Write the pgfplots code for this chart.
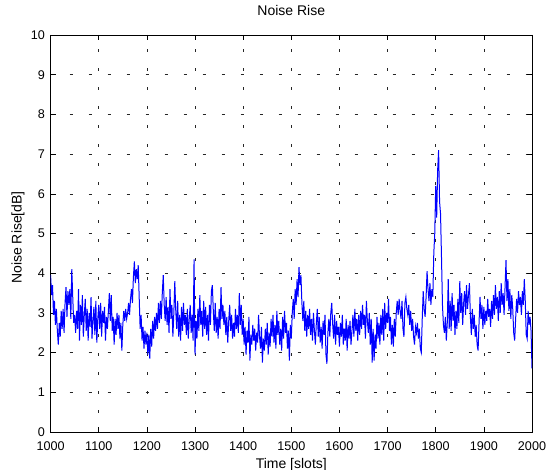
\documentclass[border=0pt]{standalone}
\usepackage{fontspec}
\setmainfont{Liberation Sans}
\usepackage{pgfplots}
\pgfplotsset{compat=1.18}

\begin{document}
\begin{tikzpicture}
\useasboundingbox (0,0) rectangle (547bp,470bp);
\begin{axis}[
    at={(50.6bp,38bp)}, anchor=south west,
    scale only axis, width=481.4bp, height=397bp,
    xmin=1000, xmax=2000, ymin=0, ymax=10,
    xtick={1000,1100,...,2000}, ytick={0,1,...,10},
    grid=major,
    major grid style={black!85, line width=0.5bp, dash pattern=on 3bp off 16bp},
    tick align=inside, major tick length=5bp,
    tick style={black, line width=0.5bp},
    axis line style={black, line width=0.6bp},
    /pgf/number format/assume math mode=true,
    /pgf/number format/set thousands separator={},
    tick label style={font=\fontsize{12.6bp}{14bp}\selectfont, inner sep=0pt},
    xticklabel style={anchor=base, yshift=-18.7bp},
    yticklabel style={anchor=east, xshift=-5.6bp},
    title={Noise Rise},
    title style={font=\fontsize{14bp}{16bp}\selectfont, at={(axis description cs:0.5,1)}, anchor=base, yshift=14bp, inner sep=0pt},
    xlabel={Time [slots]},
    xlabel style={font=\fontsize{14bp}{16bp}\selectfont, at={(axis description cs:0.5,0)}, anchor=base, yshift=-36.5bp, inner sep=0pt},
    ylabel={Noise Rise[dB]},
    ylabel style={font=\fontsize{14bp}{16bp}\selectfont, at={(axis description cs:-0.06,0.49)}, anchor=base, inner sep=0pt},
]
\addplot[blue, line width=1bp, mark=none] coordinates {
(1000,3.95)(1002,3.45)(1004,3.70)(1006,2.95)(1008,3.30)(1010,2.70)(1012,3.10)(1014,2.55)(1016,2.20)(1018,2.75)
(1020,2.40)(1022,3.05)(1024,2.60)(1026,3.10)(1028,2.50)(1030,3.25)(1032,3.65)(1034,2.90)(1036,3.55)(1038,3.20)
(1040,3.60)(1042,2.85)(1044,4.10)(1046,3.40)(1048,2.75)(1050,2.95)(1052,2.50)(1054,3.05)(1056,2.60)(1058,3.60)
(1060,2.30)(1062,3.20)(1064,2.70)(1066,3.45)(1068,2.40)(1070,2.95)(1072,3.35)(1074,2.55)(1076,3.10)(1078,2.30)
(1080,3.00)(1082,2.65)(1084,3.40)(1086,2.35)(1088,2.80)(1090,3.15)(1092,2.45)(1094,3.30)(1096,2.25)(1098,2.85)
(1100,3.20)(1102,2.60)(1104,3.25)(1106,2.40)(1108,3.05)(1110,2.75)(1112,3.15)(1114,2.30)(1116,2.90)(1118,2.60)
(1120,3.05)(1122,3.50)(1124,2.80)(1126,3.45)(1128,2.55)(1130,2.90)(1132,2.20)(1134,2.85)(1136,2.45)(1138,3.00)
(1140,2.60)(1142,2.95)(1144,2.35)(1146,2.75)(1148,2.05)(1150,2.70)(1152,3.05)(1154,2.80)(1156,3.10)(1158,2.85)
(1160,3.00)(1162,3.25)(1164,2.95)(1166,3.35)(1168,3.60)(1170,3.25)(1172,3.90)(1174,4.30)(1176,3.75)(1178,4.10)
(1180,3.85)(1182,4.20)(1184,3.40)(1186,2.60)(1188,2.95)(1190,2.30)(1192,2.65)(1194,2.10)(1196,2.55)(1198,2.20)
(1200,2.50)(1202,1.95)(1204,2.45)(1206,1.85)(1208,2.60)(1210,2.15)(1212,2.80)(1214,2.35)(1216,2.90)(1218,2.55)
(1220,3.00)(1222,2.60)(1224,3.25)(1226,2.75)(1228,3.30)(1230,2.85)(1232,3.50)(1234,3.95)(1236,3.20)(1238,2.80)
(1240,3.40)(1242,2.70)(1244,3.15)(1246,2.50)(1248,3.60)(1250,2.85)(1252,3.20)(1254,2.40)(1256,3.00)(1258,3.80)
(1260,3.05)(1262,2.60)(1264,3.30)(1266,2.40)(1268,2.95)(1270,2.30)(1272,3.15)(1274,2.55)(1276,3.25)(1278,2.70)
(1280,2.95)(1282,2.45)(1284,3.10)(1286,2.35)(1288,2.85)(1290,3.20)(1292,2.50)(1294,2.95)(1296,2.30)(1298,4.35)
(1300,1.95)(1302,2.80)(1304,2.35)(1306,3.10)(1308,2.55)(1310,3.45)(1312,2.70)(1314,3.05)(1316,2.40)(1318,3.30)
(1320,2.60)(1322,3.15)(1324,2.45)(1326,2.95)(1328,2.30)(1330,3.20)(1332,2.70)(1334,3.55)(1336,3.70)(1338,3.05)
(1340,2.55)(1342,3.25)(1344,2.50)(1346,2.90)(1348,2.35)(1350,3.10)(1352,2.60)(1354,3.65)(1356,2.85)(1358,3.20)
(1360,2.70)(1362,3.05)(1364,2.45)(1366,2.90)(1368,2.25)(1370,2.80)(1372,3.20)(1374,2.55)(1376,2.95)(1378,2.35)
(1380,2.75)(1382,2.40)(1384,3.10)(1386,2.60)(1388,2.95)(1390,2.50)(1392,3.50)(1394,2.70)(1396,3.20)(1398,2.45)
(1400,2.85)(1402,2.20)(1404,2.65)(1406,1.95)(1408,2.55)(1410,2.25)(1412,2.90)(1414,1.80)(1416,2.45)(1418,2.20)
(1420,2.70)(1422,2.30)(1424,2.60)(1426,2.05)(1428,2.50)(1430,2.25)(1432,2.95)(1434,2.40)(1436,2.10)(1438,2.65)
(1440,1.75)(1442,2.35)(1444,2.05)(1446,2.60)(1448,2.20)(1450,2.75)(1452,1.95)(1454,2.50)(1456,2.15)(1458,2.85)
(1460,2.40)(1462,2.95)(1464,2.25)(1466,2.70)(1468,2.10)(1470,3.05)(1472,2.45)(1474,2.80)(1476,2.20)(1478,2.60)
(1480,2.05)(1482,2.90)(1484,2.35)(1486,3.05)(1488,2.50)(1490,2.75)(1492,2.10)(1494,2.55)(1496,1.80)(1498,2.70)
(1500,2.35)(1502,3.00)(1504,3.35)(1506,2.85)(1508,3.60)(1510,3.20)(1512,3.85)(1514,3.40)(1516,4.15)(1518,3.70)
(1520,3.95)(1522,3.25)(1524,2.80)(1526,3.30)(1528,2.55)(1530,3.05)(1532,2.40)(1534,2.95)(1536,2.60)(1538,3.10)
(1540,2.45)(1542,2.85)(1544,2.30)(1546,3.00)(1548,2.55)(1550,2.20)(1552,2.75)(1554,3.10)(1556,2.40)(1558,2.90)
(1560,2.25)(1562,2.65)(1564,2.10)(1566,2.80)(1568,2.45)(1570,2.95)(1572,1.95)(1574,1.72)(1576,2.50)(1578,2.85)
(1580,2.40)(1582,3.00)(1584,3.25)(1586,2.70)(1588,2.35)(1590,2.95)(1592,2.20)(1594,2.80)(1596,2.45)(1598,2.65)
(1600,2.15)(1602,2.75)(1604,2.40)(1606,2.95)(1608,2.20)(1610,2.60)(1612,2.30)(1614,2.85)(1616,2.05)(1618,2.70)
(1620,2.35)(1622,2.80)(1624,2.20)(1626,2.55)(1628,2.95)(1630,2.40)(1632,3.10)(1634,2.55)(1636,2.85)(1638,2.30)
(1640,2.95)(1642,2.45)(1644,3.05)(1646,2.60)(1648,3.20)(1650,2.70)(1652,2.95)(1654,2.35)(1656,3.30)(1658,2.80)
(1660,2.50)(1662,3.00)(1664,2.20)(1666,2.85)(1668,1.75)(1670,2.60)(1672,1.80)(1674,2.45)(1676,2.10)(1678,2.90)
(1680,2.35)(1682,2.75)(1684,2.20)(1686,2.95)(1688,2.45)(1690,3.10)(1692,2.30)(1694,3.25)(1696,2.60)(1698,3.00)
(1700,2.75)(1702,3.35)(1704,2.55)(1706,2.90)(1708,2.20)(1710,2.70)(1712,2.15)(1714,2.85)(1716,2.40)(1718,3.00)
(1720,3.30)(1722,2.95)(1724,3.35)(1726,3.05)(1728,2.85)(1730,3.30)(1732,2.60)(1734,2.40)(1736,3.25)(1738,3.40)
(1740,3.10)(1742,2.95)(1744,3.20)(1746,2.70)(1748,3.05)(1750,2.55)(1752,2.85)(1754,2.40)(1756,2.20)(1758,2.65)
(1760,2.50)(1762,2.75)(1764,2.35)(1766,2.60)(1768,2.10)(1770,2.00)(1772,2.85)(1774,3.55)(1776,3.10)(1778,2.90)
(1780,3.40)(1782,4.05)(1784,3.60)(1786,3.30)(1788,3.75)(1790,3.20)(1792,3.60)(1794,3.40)(1796,4.50)(1798,5.00)
(1800,6.20)(1802,5.40)(1804,6.60)(1806,7.10)(1808,5.80)(1810,5.50)(1812,4.40)(1814,3.20)(1816,2.70)(1818,2.50)
(1820,2.90)(1822,2.30)(1824,2.75)(1826,3.85)(1828,2.60)(1830,3.30)(1832,2.55)(1834,3.50)(1836,2.80)(1838,3.20)
(1840,2.45)(1842,3.05)(1844,2.60)(1846,3.35)(1848,2.75)(1850,3.80)(1852,3.00)(1854,3.50)(1856,2.70)(1858,3.25)
(1860,3.55)(1862,2.95)(1864,3.70)(1866,3.10)(1868,3.45)(1870,3.75)(1872,2.90)(1874,2.45)(1876,3.10)(1878,2.60)
(1880,2.95)(1882,2.40)(1884,2.70)(1886,2.20)(1888,2.05)(1890,2.75)(1892,3.40)(1894,2.85)(1896,3.20)(1898,2.60)
(1900,3.15)(1902,2.70)(1904,3.05)(1906,2.80)(1908,3.35)(1910,2.90)(1912,3.10)(1914,2.65)(1916,3.30)(1918,2.85)
(1920,3.45)(1922,2.95)(1924,3.70)(1926,3.10)(1928,3.40)(1930,2.80)(1932,3.55)(1934,3.00)(1936,3.75)(1938,3.20)
(1940,3.50)(1942,2.95)(1944,3.65)(1946,4.33)(1948,3.30)(1950,3.85)(1952,3.05)(1954,3.60)(1956,2.85)(1958,3.45)
(1960,3.10)(1962,2.50)(1964,2.30)(1966,2.85)(1968,3.35)(1970,3.00)(1972,3.55)(1974,3.20)(1976,3.40)(1978,2.95)
(1980,3.55)(1982,3.20)(1984,3.85)(1986,3.30)(1988,2.45)(1990,2.35)(1992,3.05)(1994,2.70)(1996,2.90)(1998,2.55)
(2000,1.60)
};
\end{axis}
\end{tikzpicture}
\end{document}
